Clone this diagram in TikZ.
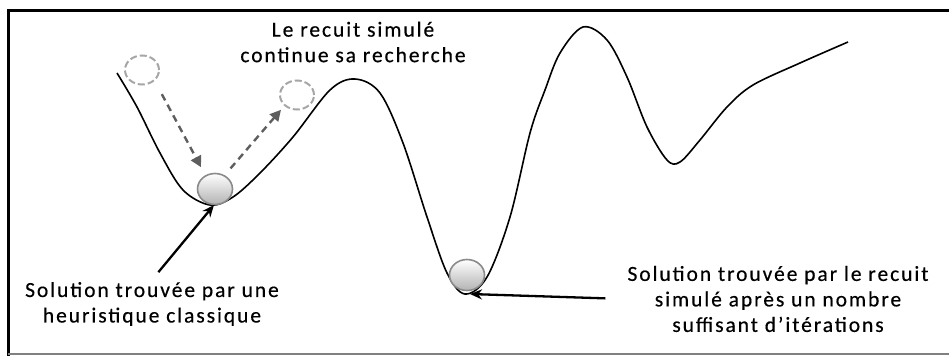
\documentclass[tikz,border=0pt]{standalone}
\usepackage{fontspec}
\setmainfont{Carlito}
\newfontfamily\labfont[LetterSpace=9,FakeBold=0.4]{Carlito}
\usetikzlibrary{arrows.meta,shapes.geometric}
\definecolor{rim}{HTML}{8A8A8A}
\definecolor{trail}{HTML}{5E5E5E}
\definecolor{ghostc}{HTML}{A6A6A6}
\tikzset{
  txt/.style={font=\labfont\fontsize{21.5}{25.5}\selectfont,align=center,inner sep=2pt},
  ball/.style={ellipse,draw=rim,line width=1.6pt,top color=white,bottom color=gray!60,minimum width=35pt,minimum height=31pt,inner sep=0pt},
  ghost/.style={ellipse,draw=ghostc,dash pattern=on 7pt off 3pt,line width=2pt,minimum width=34pt,minimum height=29pt,inner sep=0pt},
  arr/.style={-{Stealth[length=12pt,width=10pt]},line width=2.3pt},
  darr/.style={-{Triangle[length=11pt,width=11pt]},draw=trail,line width=2.4pt,dash pattern=on 7pt off 5pt},
  land/.style={line width=1.6pt},
}
\begin{document}
\begin{tikzpicture}[x=1pt,y=-1pt]
\useasboundingbox (0,0) rectangle (949,356);
% cadre
\draw[line width=3pt] (8,356) -- (8,10) -- (949,10);
\draw[gray,line width=2pt] (8,354) -- (949,354);
% paysage
\draw[land] plot[smooth,tension=0.55] coordinates {(117,73) (137,107) (160,153) (183,190) (210,205) (233,197) (260,173) (293,137) (330,90) (355,79) (380,93) (403,143) (427,217) (447,273) (465,294) (487,277) (510,217) (530,133) (545,90) (560,53) (583,27) (607,40) (627,77) (647,127) (667,160) (680,162) (700,140) (727,107) (753,85) (800,63) (848,42)};
\coordinate (min1) at (214,205);
\coordinate (min2) at (470,294);
% billes
\node[ghost] (ghost1) at (142,70) {};
\node[ghost] (ghost2) at (297,95) {};
\node[ball] (ball1) at (215,189) {};
\node[ball] (ball2) at (467,275) {};
% textes
\node[txt] (toptxt) at (353,42) {Le recuit simulé\\continue sa recherche};
\node[txt] (lefttxt) at (152,304) {Solution trouvée par une\\heuristique classique};
\node[txt] (righttxt) at (778,299) {Solution trouvée par le recuit\\simulé après un nombre\\suffisant d’itérations};
% fleches
\draw[darr,shorten <=15pt,shorten >=9pt] (ghost1.south east) -- (ball1.125);
\draw[darr,shorten <=9pt,shorten >=5pt] (ball1.55) -- (ghost2.south west);
\draw[arr,shorten <=10pt] (lefttxt.north) -- (min1);
\draw[arr,shorten <=20pt] (righttxt.west) -- (min2);
\end{tikzpicture}
\end{document}
